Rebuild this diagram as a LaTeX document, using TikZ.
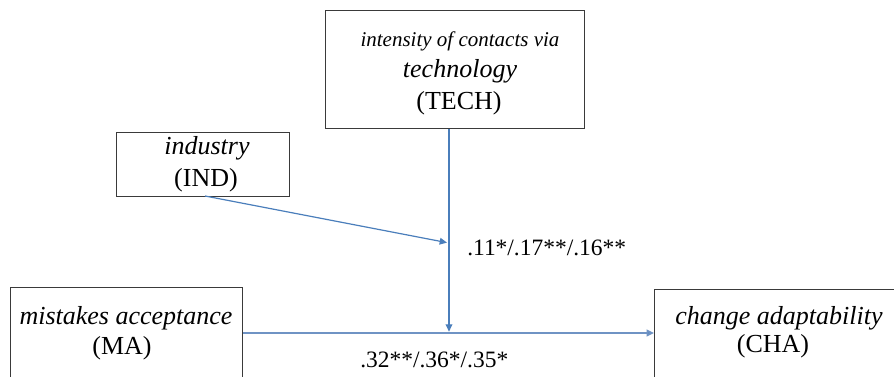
\documentclass[tikz,border=0pt]{standalone}
\usepackage{fontspec}
\setmainfont{Liberation Serif}[Ligatures=TeX]
\newfontfamily\tnr{Liberation Serif}
\usetikzlibrary{arrows.meta}
\definecolor{linkblue}{HTML}{4A7EBB}
\definecolor{linklight}{HTML}{6F93C4}
\definecolor{boxgray}{HTML}{3A3A3A}
\tikzset{
  box/.style={draw=boxgray, line width=0.9pt, fill=white, rectangle, inner sep=0pt, anchor=north west},
  boxtext/.style={anchor=base, inner sep=0pt, font=\tnr\fontsize{19.5}{22}\selectfont},
  smalltext/.style={anchor=base, inner sep=0pt, font=\tnr\fontsize{15.75}{18}\selectfont},
  coef/.style={anchor=base west, inner sep=0pt, font=\tnr\fontsize{17.6}{20}\selectfont},
  link/.style={draw=linkblue, line width=0.9pt, -{Triangle[length=5.5pt,width=5pt]}},
  mainlink/.style={link, draw=linklight, line width=1.3pt, -{Triangle[length=5.5pt,width=5pt,fill=linkblue]}}
}
\begin{document}
\begin{tikzpicture}[x=0.75pt,y=-0.75pt]
\useasboundingbox (0,0) rectangle (894,377);
\begin{scope}
\clip (0,0) rectangle (894,377);
% boxes
\node[box, minimum width=194.25pt, minimum height=88.5pt] (TECH) at (325,10) {};
\node[box, minimum width=129.75pt, minimum height=48pt] (IND) at (116,132) {};
\node[box, minimum width=174pt, minimum height=90pt] (MA) at (10,287) {};
\node[box, minimum width=195pt, minimum height=90pt] (CHA) at (654,289) {};
% box texts
\node[smalltext] (TECHa) at (460,47) {\itshape intensity of contacts via};
\node[boxtext] (TECHb) at (460,78) {\itshape technology};
\node[boxtext] (TECHc) at (459,110) {(TECH)};
\node[boxtext] (INDa) at (207,155) {\itshape industry};
\node[boxtext] (INDb) at (206,187) {(IND)};
\node[boxtext] (MAa) at (126,325) {\itshape mistakes acceptance};
\node[boxtext] (MAb) at (122,355) {(MA)};
\node[boxtext] (CHAa) at (779,325) {\itshape change adaptability};
\node[boxtext] (CHAb) at (773,353) {(CHA)};
% junction points
\coordinate (m) at (449,333);
\coordinate (k) at (449,243);
\coordinate (indstart) at (205,196);
% connectors
\draw[mainlink] (MA.east |- m) -- (CHA.west |- m);
\draw[link, shorten >=1pt] (TECH.south -| m) -- (m);
\draw[link, shorten >=1.5pt] (indstart) -- (k);
% coefficients
\node[coef] (c1) at (467,256) {.11*/.17**/.16**};
\node[coef] (c2) at (360,368) {.32**/.36*/.35*};
\end{scope}
\end{tikzpicture}
\end{document}
